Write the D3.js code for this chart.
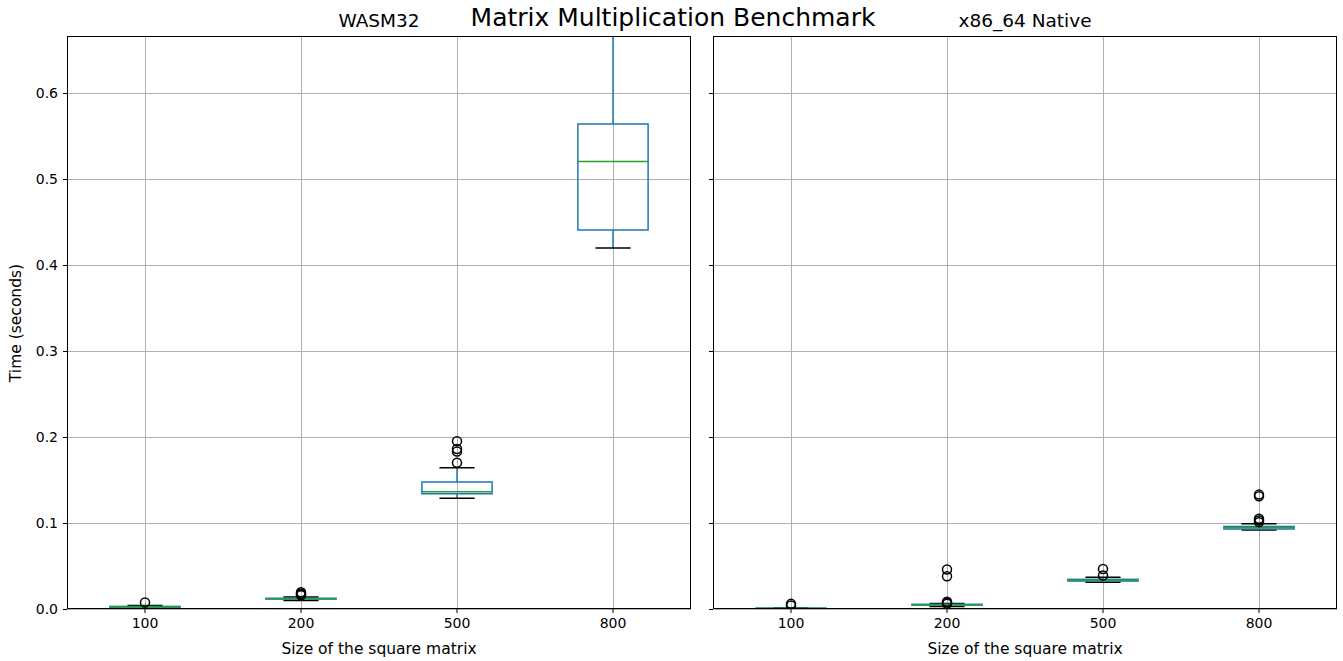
<!DOCTYPE html>
<html>
<head>
<meta charset="utf-8">
<script src="https://cdn.jsdelivr.net/npm/d3@7"></script>
<style>
  body { margin: 0; background: #fff; }
  svg { display: block; font-family: "DejaVu Sans", sans-serif; }
</style>
</head>
<body>
<svg id="chart" width="1343" height="661"></svg>
<script>
const categories = ["100", "200", "500", "800"];
const yTicks = [0.0, 0.1, 0.2, 0.3, 0.4, 0.5, 0.6];

// [whiskerLow, q1, median, q3, whiskerHigh]
const wasmStats = [
  [0.0010, 0.0015, 0.0020, 0.0030, 0.0040],
  [0.0100, 0.0115, 0.0120, 0.0125, 0.0140],
  [0.1287, 0.1340, 0.1364, 0.1477, 0.1643],
  [0.4198, 0.4407, 0.5205, 0.5640, 0.7200]
];
const wasmOutliers = [
  [0.0075],
  [0.0160, 0.0170, 0.0180, 0.0195],
  [0.1700, 0.1830, 0.1860, 0.1950],
  []
];
const nativeStats = [
  [0.0002, 0.0005, 0.0008, 0.0010, 0.0015],
  [0.0030, 0.0045, 0.0050, 0.0055, 0.0065],
  [0.0310, 0.0325, 0.0335, 0.0345, 0.0370],
  [0.0920, 0.0930, 0.0945, 0.0960, 0.0990]
];
const nativeOutliers = [
  [0.0040, 0.0060],
  [0.0060, 0.0075, 0.0085, 0.0380, 0.0460],
  [0.0390, 0.0465],
  [0.1010, 0.1030, 0.1050, 0.1310, 0.1330]
];

(function () {
const yMax = 0.6663;
const svg = d3.select("#chart");
const plotTop = 36, plotBottom = 609;
const panels = [
  { title: "WASM32", x0: 67, x1: 691, stats: wasmStats, outliers: wasmOutliers, labels: true },
  { title: "x86_64 Native", x0: 713, x1: 1337, stats: nativeStats, outliers: nativeOutliers, labels: false }
];

const y = d3.scaleLinear().domain([0, yMax]).range([plotBottom, plotTop]);

panels.forEach((p, pi) => {
  const x = d3.scaleBand().domain(categories).range([p.x0, p.x1]).paddingInner(0).paddingOuter(0);
  const bw = x.bandwidth();
  const boxHalf = bw * 0.225;
  const capHalf = boxHalf / 2;
  const g = svg.append("g");
  const clipId = "clip" + pi;
  svg.append("clipPath").attr("id", clipId).append("rect")
    .attr("x", p.x0).attr("y", plotTop).attr("width", p.x1 - p.x0).attr("height", plotBottom - plotTop);

  // grid
  const grid = g.append("g");
  yTicks.forEach(t => {
    grid.append("line").attr("x1", p.x0).attr("x2", p.x1)
      .attr("y1", Math.round(y(t)) + 0.5).attr("y2", Math.round(y(t)) + 0.5)
      .attr("stroke", "#b0b0b0").attr("stroke-width", 1);
  });
  categories.forEach(c => {
    const cx = Math.round(x(c) + bw / 2) + 0.5;
    grid.append("line").attr("x1", cx).attr("x2", cx).attr("y1", plotTop).attr("y2", plotBottom)
      .attr("stroke", "#b0b0b0").attr("stroke-width", 1);
  });

  // boxes
  const marks = g.append("g").attr("clip-path", `url(#${clipId})`);
  categories.forEach((c, i) => {
    const cx = x(c) + bw / 2;
    const [wl, q1, med, q3, wh] = p.stats[i];
    marks.append("line").attr("x1", cx).attr("x2", cx).attr("y1", y(wl)).attr("y2", y(q1))
      .attr("stroke", "#1f77b4").attr("stroke-width", 1.5);
    marks.append("line").attr("x1", cx).attr("x2", cx).attr("y1", y(q3)).attr("y2", y(wh))
      .attr("stroke", "#1f77b4").attr("stroke-width", 1.5);
    [wl, wh].forEach(v => {
      marks.append("line").attr("x1", cx - capHalf).attr("x2", cx + capHalf)
        .attr("y1", y(v)).attr("y2", y(v)).attr("stroke", "#000").attr("stroke-width", 1.5);
    });
    marks.append("rect").attr("x", cx - boxHalf).attr("width", boxHalf * 2)
      .attr("y", y(q3)).attr("height", Math.max(0.01, y(q1) - y(q3)))
      .attr("fill", "none").attr("stroke", "#1f77b4").attr("stroke-width", 1.5);
    marks.append("line").attr("x1", cx - boxHalf).attr("x2", cx + boxHalf)
      .attr("y1", y(med)).attr("y2", y(med)).attr("stroke", "#2ca02c").attr("stroke-width", 1.5);
    p.outliers[i].forEach(v => {
      marks.append("circle").attr("cx", cx).attr("cy", y(v)).attr("r", 4.5)
        .attr("fill", "none").attr("stroke", "#000").attr("stroke-width", 1.5);
    });
  });

  // axes
  const yAxis = d3.axisLeft(y).tickValues(yTicks).tickSize(4).tickPadding(5)
    .tickFormat(p.labels ? d3.format(".1f") : () => "");
  const ya = svg.append("g").attr("transform", `translate(${p.x0},0)`).call(yAxis);
  ya.select(".domain").remove();
  ya.selectAll("text").attr("font-size", 14).attr("font-family", "DejaVu Sans").attr("fill", "#000");
  ya.selectAll("line").attr("stroke", "#000");

  const xAxis = d3.axisBottom(x).tickSize(4).tickPadding(5);
  const xa = svg.append("g").attr("transform", `translate(0,${plotBottom})`).call(xAxis);
  xa.select(".domain").remove();
  xa.selectAll("text").attr("font-size", 14).attr("font-family", "DejaVu Sans").attr("fill", "#000");
  xa.selectAll("line").attr("stroke", "#000");

  svg.append("rect").attr("x", p.x0 + 0.5).attr("y", plotTop + 0.5)
    .attr("width", p.x1 - p.x0 - 1).attr("height", plotBottom - plotTop - 1)
    .attr("fill", "none").attr("stroke", "#000").attr("stroke-width", 1);

  svg.append("text").attr("x", (p.x0 + p.x1) / 2).attr("y", 27)
    .attr("text-anchor", "middle").attr("font-size", 18.5).text(p.title);
  svg.append("text").attr("x", (p.x0 + p.x1) / 2).attr("y", 654)
    .attr("text-anchor", "middle").attr("font-size", 15.5).text("Size of the square matrix");
});

svg.append("text").attr("transform", "translate(21,323) rotate(-90)")
  .attr("text-anchor", "middle").attr("font-size", 15.5).text("Time (seconds)");

svg.append("text").attr("x", 673).attr("y", 26).attr("text-anchor", "middle")
  .attr("font-size", 25).text("Matrix Multiplication Benchmark");
})();
</script>
</body>
</html>
